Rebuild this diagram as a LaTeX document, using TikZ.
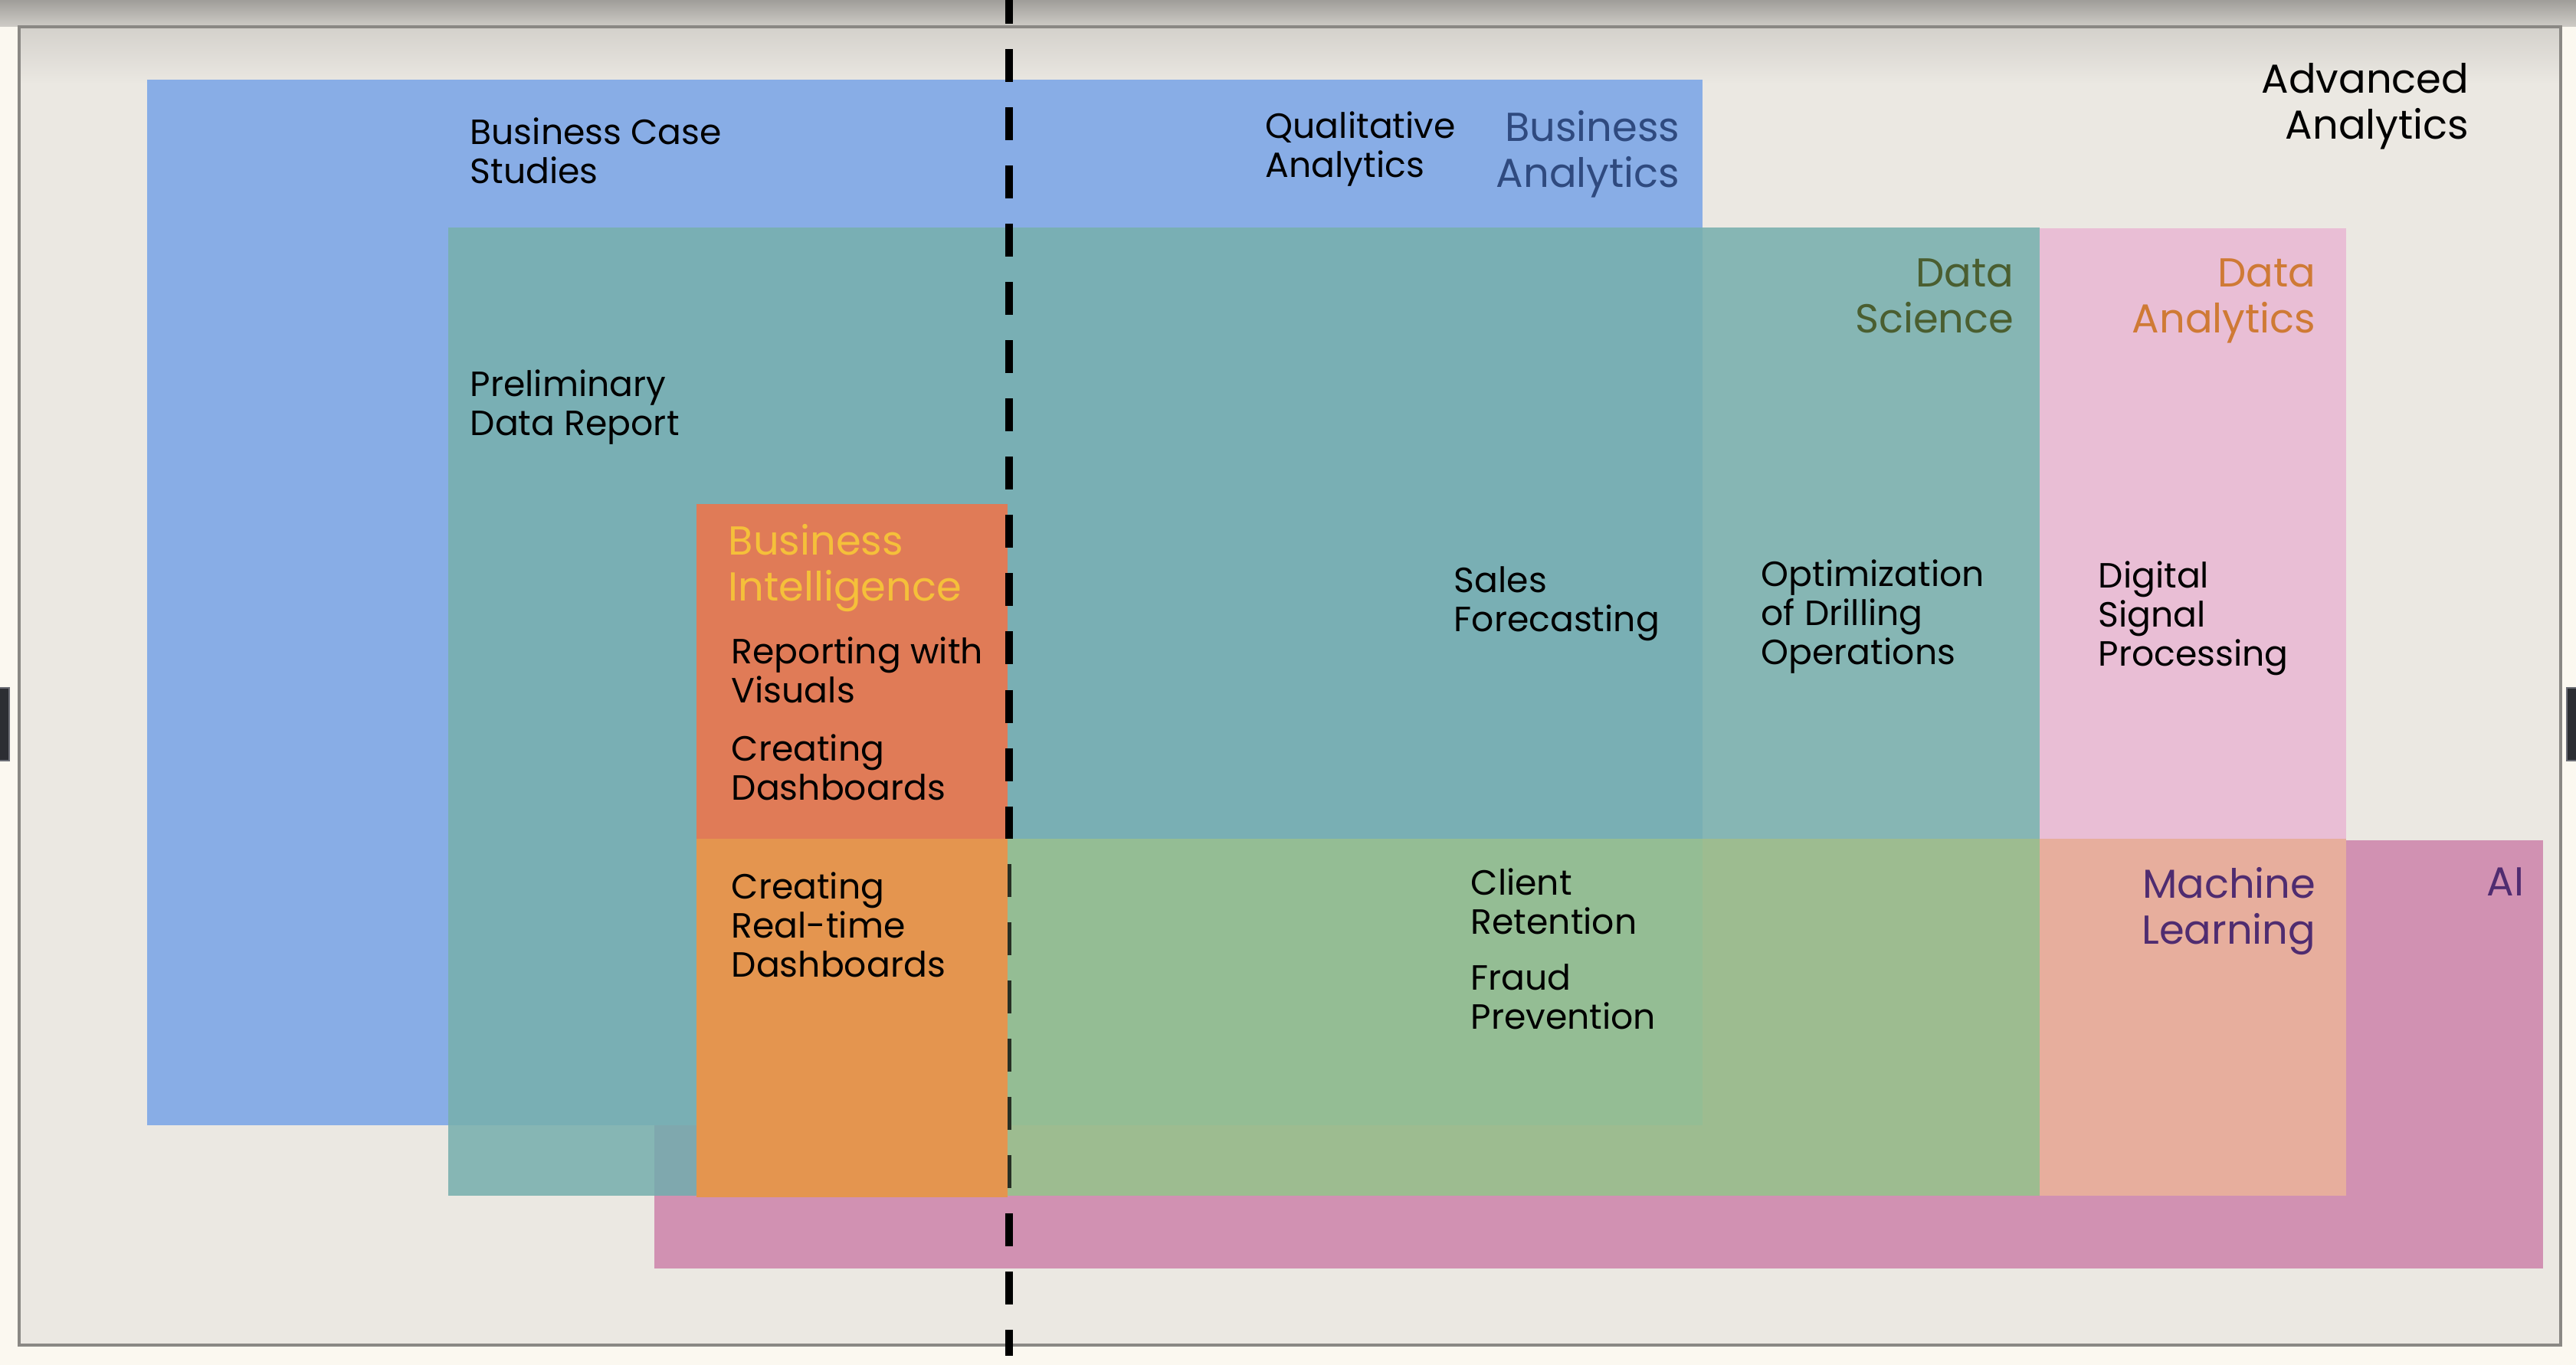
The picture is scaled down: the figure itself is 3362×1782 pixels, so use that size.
\documentclass[tikz,border=0pt]{standalone}
\usepackage{fontspec}
\setmainfont{Poppins}
\usepackage{tikz}

\definecolor{cream}{HTML}{FBF8F0}
\definecolor{slide}{HTML}{EBE8E2}
\definecolor{rim}{HTML}{8A8884}
\definecolor{tab}{HTML}{2C2E33}
\definecolor{tabrim}{HTML}{6B6D75}
\definecolor{blue}{HTML}{88ADE6}
\definecolor{tealdark}{HTML}{79AFB4}
\definecolor{teallight}{HTML}{86B6B4}
\definecolor{tealai}{HTML}{7FA8AE}
\definecolor{bired}{HTML}{E07B57}
\definecolor{orange}{HTML}{E4954F}
\definecolor{greenblue}{HTML}{94BD94}
\definecolor{green}{HTML}{9DBC90}
\definecolor{dapink}{HTML}{E9BED5}
\definecolor{salmon}{HTML}{E7AE9D}
\definecolor{aipink}{HTML}{D191B2}
\definecolor{batext}{HTML}{2F4A7F}
\definecolor{dstext}{HTML}{4A5E30}
\definecolor{datext}{HTML}{CF7A35}
\definecolor{bitext}{HTML}{F5C03A}
\definecolor{mltext}{HTML}{4F2C70}

\begin{document}
\begin{tikzpicture}[x=0.01cm, y=-0.01cm,
    item/.style={anchor=north west, inner sep=0pt, align=left,
        font=\fontsize{13}{14.5}\selectfont, text=black},
    heading/.style={inner sep=0pt,
        font=\fontsize{15}{17}\selectfont},
    cutline/.style={line width=0.1cm, black,
        dash pattern=on 0.43cm off 0.33cm}]
    \useasboundingbox (0,0) rectangle (3362,1782);

    % screen and slide
    \fill[cream] (0,0) rectangle (3362,1782);
    \shade[top color=black!32!slide, bottom color=black!12!slide] (0,0) rectangle (3362,35);
    \fill[slide] (25,35) rectangle (3342,1756);
    \shade[top color=black!10!slide, bottom color=slide] (25,35) rectangle (3342,110);
    \draw[rim, line width=0.04cm] (25,35) rectangle (3342,1756);
    \fill[tab, draw=tabrim, line width=0.02cm] (-5,898) rectangle (12,993);
    \fill[tab, draw=tabrim, line width=0.02cm] (3350,898) rectangle (3367,993);

    % fields
    \fill[blue] (192,104) rectangle (2222,1469);
    \fill[aipink] (854,1097) rectangle (3319,1656);
    \fill[teallight] (585,297) rectangle (2662,1561);
    \fill[tealdark] (585,297) rectangle (2222,1469);
    \fill[tealai] (854,1469) rectangle (909,1561);
    \fill[green] (1315,1095) rectangle (2662,1561);
    \fill[greenblue] (1315,1095) rectangle (2222,1469);
    \fill[bired] (909,658) rectangle (1315,1095);
    \fill[orange] (909,1095) rectangle (1315,1563);
    \fill[dapink] (2662,298) rectangle (3062,1095);
    \fill[salmon] (2662,1095) rectangle (3062,1561);

    % dashed divider
    \coordinate (cuttop) at (1317,0);
    \coordinate (cuta) at (1317,1095);
    \coordinate (cutb) at (1317,1561);
    \coordinate (cutbot) at (1317,1770);
    \draw[cutline, dash phase=0.12cm] (cuttop) -- (cuta);
    \draw[cutline, line width=0.05cm, black!75!green, dash phase=0.43cm] (cuta) -- (cutb);
    \draw[cutline, dash phase=0.53cm] (cutb) -- (cutbot);

    % headings
    \node[heading, anchor=north east, align=right] (adv) at (3223,82) {Advanced\\Analytics};
    \node[heading, anchor=north east, align=right, text=batext] (ba) at (2193,144) {Business\\Analytics};
    \node[heading, anchor=north east, align=right, text=dstext] (ds) at (2629,337) {Data\\Science};
    \node[heading, anchor=north east, align=right, text=datext] (da) at (3023,337) {Data\\Analytics};
    \node[heading, anchor=north west, align=left, text=bitext] (bi) at (950,684) {Business\\Intelligence};
    \node[heading, anchor=north east, align=right, text=mltext] (ml) at (3023,1132) {Machine\\Learning};
    \node[heading, anchor=north east, text=mltext] (ai) at (3295,1132) {AI};

    % items
    \node[item] (cases) at (613,153) {Business Case\\Studies};
    \node[item] (qual) at (1651,145) {Qualitative\\Analytics};
    \node[item] (prelim) at (613,482) {Preliminary\\Data Report};
    \node[item] (visuals) at (954,831) {Reporting with\\Visuals};
    \node[item] (boards) at (954,958) {Creating\\Dashboards};
    \node[item] (realtime) at (954,1138) {Creating\\Real-time\\Dashboards};
    \node[item] (sales) at (1897,739) {Sales\\Forecasting};
    \node[item] (drill) at (2298,730) {Optimization\\of Drilling\\Operations};
    \node[item] (signal) at (2738,732) {Digital\\Signal\\Processing};
    \node[item] (client) at (1919,1133) {Client\\Retention};
    \node[item] (fraud) at (1919,1258) {Fraud\\Prevention};
\end{tikzpicture}
\end{document}
